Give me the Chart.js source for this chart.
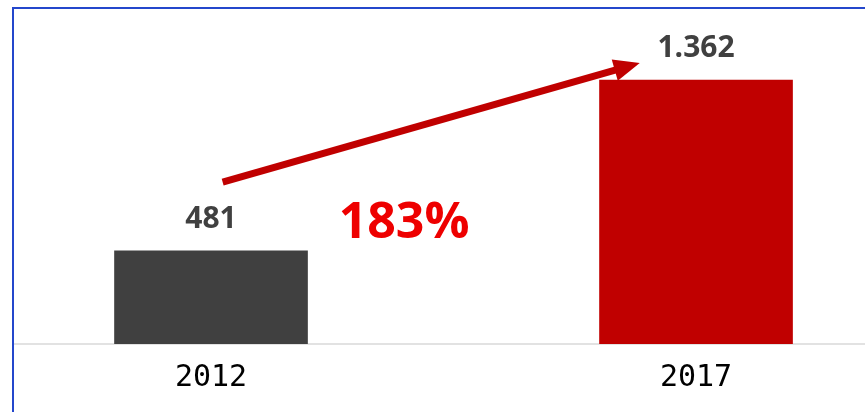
<!DOCTYPE html>
<html lang="de">
<head>
    <meta charset="UTF-8">
    <title>Wachstum 2012 - 2017</title>
    <script src="https://cdn.jsdelivr.net/npm/chart.js@4.4.1/dist/chart.umd.min.js"></script>
    <style>
        html, body {
            margin: 0;
            padding: 0;
            background: #fff;
            overflow: hidden;
        }
        .wrap {
            position: absolute;
            left: 0;
            top: 0;
            width: 865px;
            height: 412px;
        }
        .frame {
            position: absolute;
            left: 12px;
            top: 7px;
            right: 0;
            bottom: 0;
            border-left: 2px solid #2447cc;
            border-top: 2px solid #2447cc;
            pointer-events: none;
        }
    </style>
</head>
<body>
    <div class="wrap">
        <canvas id="chart" width="865" height="412"></canvas>
        <div class="frame"></div>
    </div>

    <script>
        // Data
        const years = [2012, 2017];
        const values = [481, 1362];
        const barColors = ['#404040', '#c00000'];

        // 1362 -> "1.362"
        function fmt(v) {
            return String(v).replace(/\B(?=(\d{3})+(?!\d))/g, '.');
        }

        const growth = Math.round((values[1] / values[0] - 1) * 100) + '%';

        // value labels above bars, growth text and arrow
        const overlay = {
            id: 'overlay',
            afterDatasetsDraw(chart) {
                const ctx = chart.ctx;
                const x = chart.scales.x;
                const y = chart.scales.y;
                const bars = chart.getDatasetMeta(0).data;

                ctx.save();
                ctx.fillStyle = '#404040';
                ctx.font = 'bold 30px "Open Sans"';
                ctx.textAlign = 'center';
                ctx.textBaseline = 'alphabetic';
                bars.forEach((bar, i) => {
                    ctx.fillText(fmt(values[i]), bar.x, bar.y - 23);
                });

                ctx.fillStyle = '#ee0000';
                ctx.font = 'bold 50px "Open Sans"';
                ctx.textBaseline = 'middle';
                ctx.fillText(growth, x.getPixelForValue(2013.99), y.getPixelForValue(620));

                // arrow from the small bar towards the big one
                const x0 = x.getPixelForValue(2012.12), y0 = y.getPixelForValue(835);
                const x1 = x.getPixelForValue(2016.42), y1 = y.getPixelForValue(1450);
                const ang = Math.atan2(y1 - y0, x1 - x0);
                const head = 26, half = 11;
                const bx = x1 - Math.cos(ang) * head, by = y1 - Math.sin(ang) * head;

                ctx.strokeStyle = '#c00000';
                ctx.fillStyle = '#c00000';
                ctx.lineWidth = 7;
                ctx.lineCap = 'butt';
                ctx.beginPath();
                ctx.moveTo(x0, y0);
                ctx.lineTo(bx + Math.cos(ang) * 4, by + Math.sin(ang) * 4);
                ctx.stroke();

                ctx.beginPath();
                ctx.moveTo(x1, y1);
                ctx.lineTo(bx - Math.sin(ang) * half, by + Math.cos(ang) * half);
                ctx.lineTo(bx + Math.sin(ang) * half, by - Math.cos(ang) * half);
                ctx.closePath();
                ctx.fill();
                ctx.restore();
            }
        };

        new Chart(document.getElementById('chart'), {
            type: 'bar',
            data: {
                datasets: [{
                    data: years.map((yr, i) => ({ x: yr, y: values[i] })),
                    backgroundColor: barColors,
                    borderWidth: 0,
                    barThickness: 193
                }]
            },
            options: {
                responsive: false,
                animation: false,
                layout: {
                    padding: { left: 14, right: 0, top: 0, bottom: 0 }
                },
                plugins: {
                    legend: { display: false },
                    tooltip: { enabled: false }
                },
                scales: {
                    x: {
                        type: 'linear',
                        offset: false,
                        min: 2009.969,
                        max: 2018.742,
                        afterBuildTicks(scale) {
                            scale.ticks = years.map(v => ({ value: v }));
                        },
                        grid: { display: false, drawTicks: false },
                        border: { display: true, color: '#e2e2e2', width: 2 },
                        ticks: {
                            color: '#000',
                            padding: 16,
                            maxRotation: 0,
                            autoSkip: false,
                            font: { family: '"DejaVu Sans Mono"', size: 30 },
                            callback: v => String(v)
                        }
                    },
                    y: {
                        display: false,
                        min: 0,
                        max: 1775
                    }
                }
            },
            plugins: [overlay]
        });
    </script>
</body>
</html>
